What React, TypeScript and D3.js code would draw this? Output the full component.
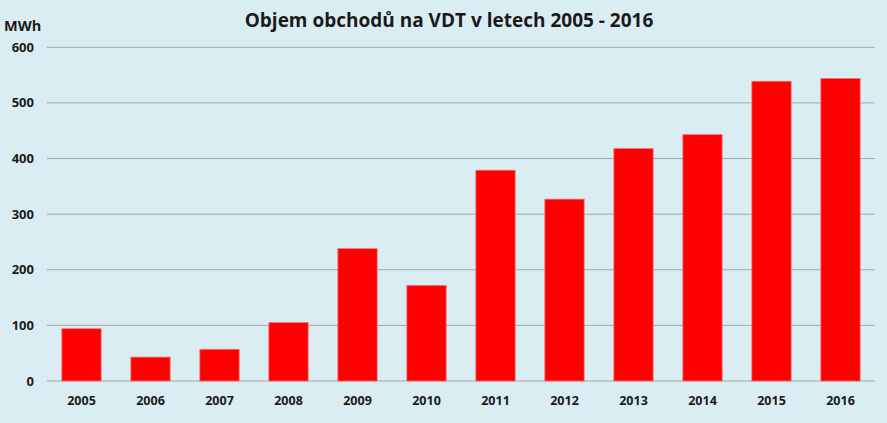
import React from "react";
import * as d3 from "d3";

const years = ["2005","2006","2007","2008","2009","2010","2011","2012","2013","2014","2015","2016"];
const values = [94, 43, 57, 105, 238, 172, 379, 327, 418, 443, 539, 544];
const yTicks = [0, 100, 200, 300, 400, 500, 600];
const title = "Objem obchodů na VDT v letech 2005 - 2016";
const unit = "MWh";

export default function App() {
  const W = 887, H = 423;
  const left = 47, right = 875, top = 47.3, bottom = 381;
  const x = d3.scaleBand().domain(years).range([left, right]).paddingInner(0.43).paddingOuter(0.215);
  const y = d3.scaleLinear().domain([0, 600]).range([bottom, top]);
  const font = "'Open Sans', 'DejaVu Sans', sans-serif";
  return (
    <div style={{ position: "absolute", left: 0, top: 0 }}>
      <svg width={W} height={H} style={{ display: "block" }}>
        <rect x={0} y={0} width={W} height={H} fill="#daedf3" />
        {yTicks.map(t => (
          <g key={t}>
            <line x1={left} x2={right} y1={y(t)} y2={y(t)} stroke="#a6a6a6" strokeWidth={1} />
            <text x={34} y={y(t)} dy="0.35em" textAnchor="end" fontFamily={font} fontWeight="bold" fontSize={13} fill="#1a1a1a">{t}</text>
          </g>
        ))}
        {years.map((yr, i) => (
          <rect key={yr} x={x(yr)} y={y(values[i])} width={x.bandwidth()} height={bottom - y(values[i])}
            fill="#ff0000" stroke="#f0787a" strokeWidth={0.8} />
        ))}
        {years.map(yr => (
          <text key={yr} x={(x(yr) as number) + x.bandwidth() / 2} y={405} textAnchor="middle" fontFamily={font} fontWeight="bold" fontSize={12.5} fill="#1a1a1a">{yr}</text>
        ))}
        <text x={4} y={31} fontFamily={font} fontWeight="bold" fontSize={14.5} fill="#1a1a1a">{unit}</text>
        <text x={449} y={27} textAnchor="middle" fontFamily={font} fontWeight="bold" fontSize={19} fill="#1a1a1a">{title}</text>
      </svg>
    </div>
  );
}
